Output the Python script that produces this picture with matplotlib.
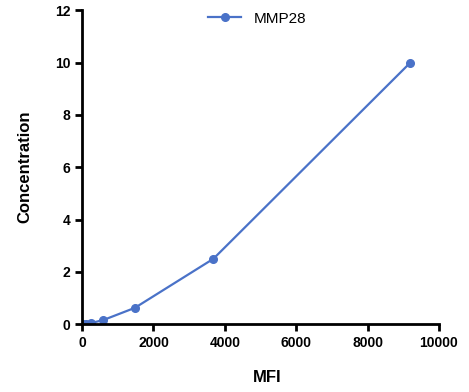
import matplotlib
matplotlib.use("Agg")
import matplotlib.pyplot as plt

plt.rcParams['font.family'] = ['Liberation Sans', 'DejaVu Sans']

mfi = [30, 100, 240, 590, 1480, 3680, 9200]
conc = [0.0, 0.01, 0.04, 0.156, 0.625, 2.5, 10.0]
series_name = "MMP28"
xticks = [0, 2000, 4000, 6000, 8000, 10000]
yticks = [0, 2, 4, 6, 8, 10, 12]

fig = plt.figure(figsize=(4.69, 3.92), dpi=100)
ax = fig.add_axes([0.175, 0.173, 0.761, 0.801])
color = '#4a72c8'
ax.plot(mfi, conc, color=color, lw=1.6, marker='o', ms=5.5, label=series_name)
ax.set_xlim(0, 10000)
ax.set_ylim(0, 12)
ax.set_xticks(xticks)
ax.set_yticks(yticks)
for s in ['top', 'right']:
    ax.spines[s].set_visible(False)
for s in ['left', 'bottom']:
    ax.spines[s].set_linewidth(2)
ax.tick_params(direction='out', width=2, length=5, labelsize=10)
for lbl in ax.get_xticklabels() + ax.get_yticklabels():
    lbl.set_fontweight('bold')
ax.set_xlabel('MFI', fontsize=12, fontweight='bold')
ax.set_ylabel('Concentration', fontsize=12, fontweight='bold', labelpad=16)
ax.xaxis.set_label_coords(0.52, -0.145)
leg = ax.legend(loc='upper center', bbox_to_anchor=(0.49, 1.015), frameon=False,
                fontsize=11, handlelength=2.2, borderaxespad=0)
fig.savefig('out.png', dpi=100)
